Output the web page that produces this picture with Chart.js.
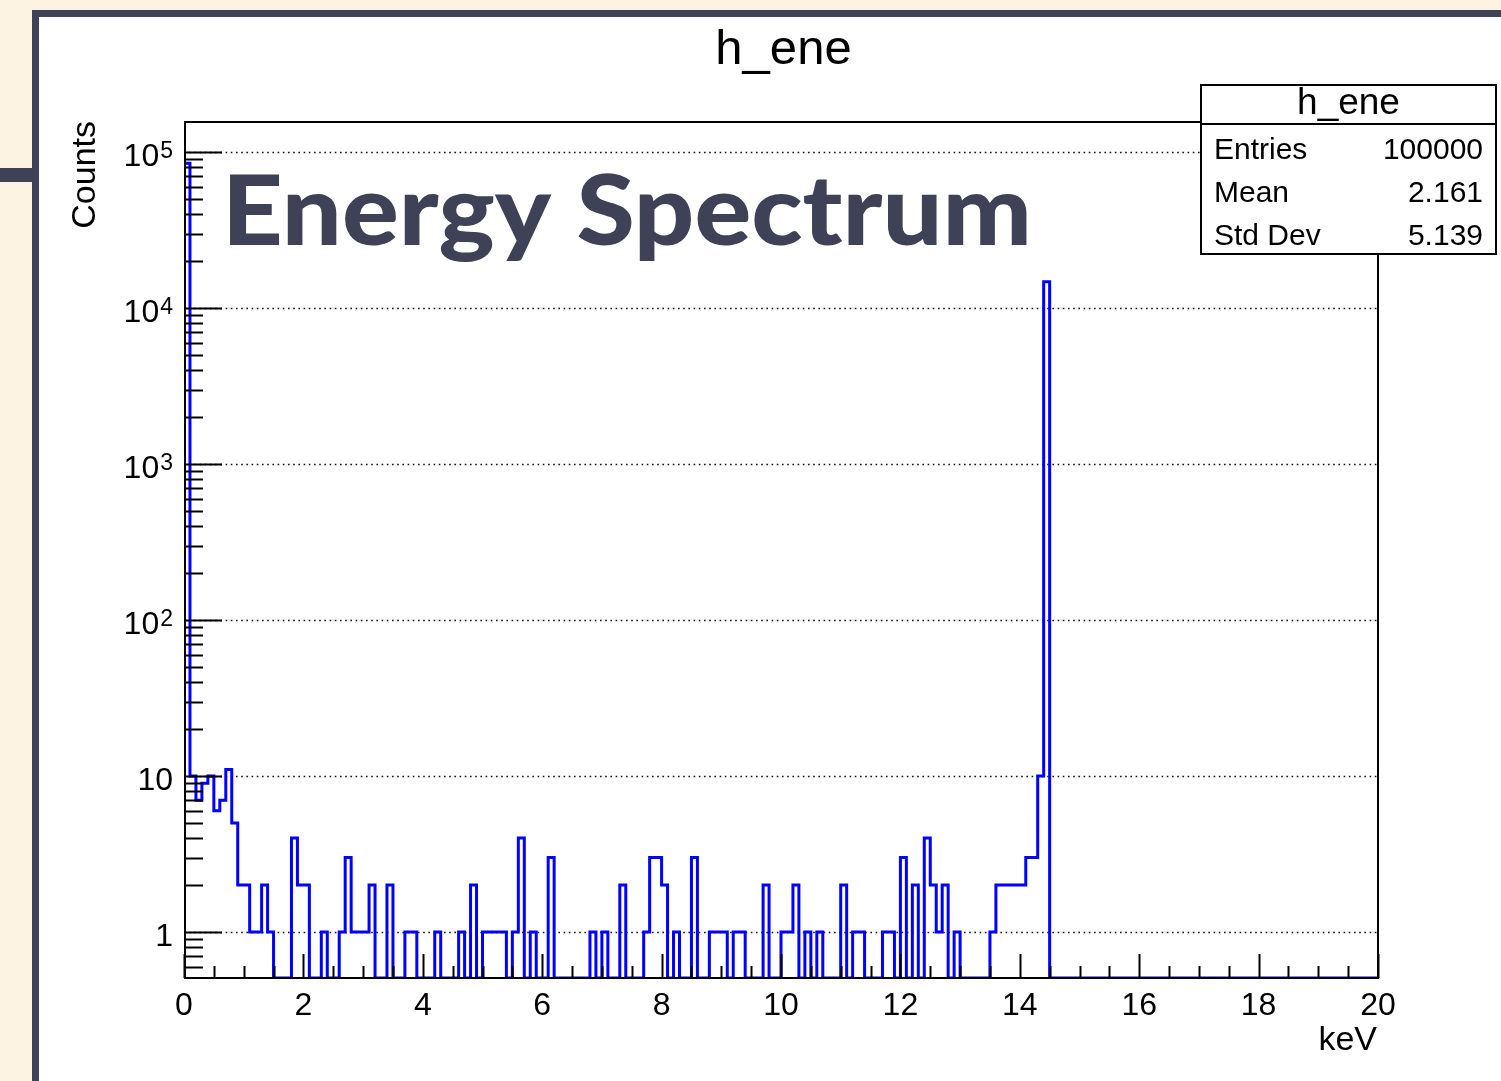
<!DOCTYPE html>
<html>
<head>
<meta charset="utf-8">
<title>h_ene</title>
<script src="https://cdn.jsdelivr.net/npm/chart.js@4.4.0/dist/chart.umd.min.js"></script>
<style>
  html, body { margin: 0; padding: 0; background: #fdf3e3; }
  body { width: 1501px; height: 1081px; overflow: hidden; position: relative; }
  #panel {
    position: absolute; left: 32px; top: 10px; width: 1480px; height: 1090px;
    border-left: 7px solid #3f4257; border-top: 7px solid #3f4257; background: #fff;
  }
  #notch { position: absolute; left: 0; top: 168px; width: 34px; height: 14px; background: #3f4257; }
  #chart { position: absolute; left: 0; top: 0; }
</style>
</head>
<body>
<div id="panel"></div>
<div id="notch"></div>
<canvas id="chart" width="1501" height="1081"></canvas>
<script>
// histogram h_ene : 200 bins of 0.1 keV from 0 to 20 keV (one row = 2 keV)
const binWidth = 0.1;
const counts = [
  85009, 10, 7, 9, 10, 6, 7, 11, 5, 2, 2, 1, 1, 2, 1, 0, 0, 0, 4, 2,
  2, 0, 0, 1, 0, 0, 1, 3, 1, 1, 1, 2, 0, 0, 2, 0, 0, 1, 1, 0,
  0, 0, 1, 0, 0, 0, 1, 0, 2, 0, 1, 1, 1, 1, 0, 1, 4, 0, 1, 0,
  0, 3, 0, 0, 0, 0, 0, 0, 1, 0, 1, 0, 0, 2, 0, 0, 0, 1, 3, 3,
  2, 0, 1, 0, 0, 3, 0, 0, 1, 1, 1, 0, 1, 1, 0, 0, 0, 2, 0, 0,
  1, 1, 2, 0, 1, 0, 1, 0, 0, 0, 2, 0, 1, 1, 0, 0, 0, 1, 1, 0,
  3, 0, 2, 0, 4, 2, 1, 2, 0, 1, 0, 0, 0, 0, 0, 1, 2, 2, 2, 2,
  2, 3, 3, 10, 14800, 0, 0, 0, 0, 0, 0, 0, 0, 0, 0, 0, 0, 0, 0, 0,
  0, 0, 0, 0, 0, 0, 0, 0, 0, 0, 0, 0, 0, 0, 0, 0, 0, 0, 0, 0,
  0, 0, 0, 0, 0, 0, 0, 0, 0, 0, 0, 0, 0, 0, 0, 0, 0, 0, 0, 0
];

const xMin = 0, xMax = 20;
const yMin = 0.507, yMax = 158600;

const xTickValues = [0, 2, 4, 6, 8, 10, 12, 14, 16, 18, 20];
const xTickLabels = ['0', '2', '4', '6', '8', '10', '12', '14', '16', '18', '20'];
const yTickValues = [1, 10, 100, 1000, 10000, 100000];
const yTickBase = ['1', '10', '10', '10', '10', '10'];
const yTickExp = ['', '', '2', '3', '4', '5'];

const histName = 'h_ene';
const statNames = ['Entries', 'Mean', 'Std Dev'];
const statValues = ['100000', '2.161', '5.139'];
const xTitle = 'keV';
const yTitle = 'Counts';
const slideTitle = 'Energy Spectrum';

const HELV = '"Liberation Sans", Arial, Helvetica, sans-serif';

// empty bins sit on the bottom of the frame, like ROOT draws them
const level = c => (c > 0 ? c : yMin);
const points = [{ x: xMin, y: yMin }];
counts.forEach((c, i) => {
  points.push({ x: i * binWidth, y: level(c) });
  points.push({ x: (i + 1) * binWidth, y: level(c) });
});
points.push({ x: xMax, y: yMin });

const rootStyle = {
  id: 'rootStyle',
  beforeDatasetsDraw(chart) {
    const { ctx, chartArea: a, scales: { y } } = chart;
    ctx.save();
    ctx.strokeStyle = '#111';
    ctx.lineWidth = 1.4;
    ctx.setLineDash([1.6, 3.6]);
    yTickValues.forEach(v => {
      const py = Math.round(y.getPixelForValue(v)) + 0.5;
      ctx.beginPath();
      ctx.moveTo(a.left, py);
      ctx.lineTo(a.right, py);
      ctx.stroke();
    });
    ctx.restore();
  },
  afterDatasetsDraw(chart) {
    const { ctx, chartArea: a, scales: { x, y } } = chart;
    ctx.save();
    ctx.strokeStyle = '#000';
    ctx.fillStyle = '#000';

    // frame
    ctx.lineWidth = 2;
    ctx.strokeRect(a.left + 1, a.top + 1, a.right - a.left - 1, a.bottom - a.top - 1);

    // y ticks (log): decades long, 2..9 short
    ctx.lineWidth = 2;
    for (let e = -1; e <= 5; e++) {
      for (let m = 1; m <= 9; m++) {
        const v = m * Math.pow(10, e);
        if (v < yMin || v > yMax) continue;
        const py = Math.round(y.getPixelForValue(v)) + 0.5;
        ctx.beginPath();
        ctx.moveTo(a.left, py);
        ctx.lineTo(a.left + (m === 1 ? 38 : 19), py);
        ctx.stroke();
      }
    }

    // x ticks: every 2 keV long, every 0.5 keV short
    for (let i = 0; i <= 40; i++) {
      const px = Math.round(x.getPixelForValue(i * 0.5)) + 0.5;
      ctx.beginPath();
      ctx.moveTo(px, a.bottom);
      ctx.lineTo(px, a.bottom - (i % 4 === 0 ? 24 : 12));
      ctx.stroke();
    }

    // tick labels
    ctx.font = '32px ' + HELV;
    ctx.textAlign = 'center';
    ctx.textBaseline = 'alphabetic';
    xTickValues.forEach((v, i) => {
      ctx.fillText(xTickLabels[i], x.getPixelForValue(v), 1015);
    });
    const labelRight = 173;
    yTickValues.forEach((v, i) => {
      const py = y.getPixelForValue(v);
      ctx.textAlign = 'right';
      if (yTickExp[i]) {
        ctx.font = '23px ' + HELV;
        const w = ctx.measureText(yTickExp[i]).width;
        ctx.fillText(yTickExp[i], labelRight, py + 6);
        ctx.font = '32px ' + HELV;
        ctx.fillText(yTickBase[i], labelRight - w - 1, py + 14);
      } else {
        ctx.font = '32px ' + HELV;
        ctx.fillText(yTickBase[i], labelRight, py + 14);
      }
    });

    // axis titles
    ctx.font = '34px ' + HELV;
    ctx.textAlign = 'right';
    ctx.fillText(xTitle, a.right - 1, 1050);
    ctx.save();
    ctx.translate(95, a.top);
    ctx.rotate(-Math.PI / 2);
    ctx.fillText(yTitle, 0, 0);
    ctx.restore();

    // histogram title
    ctx.font = '49px ' + HELV;
    ctx.textAlign = 'center';
    ctx.fillText(histName, 783.5, 64);

    // stats box
    const bx = 1200, by = 84, bw = 297, bh = 171;
    ctx.fillStyle = '#fff';
    ctx.fillRect(bx, by, bw, bh);
    ctx.lineWidth = 2;
    ctx.strokeRect(bx + 1, by + 1, bw - 2, bh - 2);
    ctx.beginPath();
    ctx.moveTo(bx, 124);
    ctx.lineTo(bx + bw, 124);
    ctx.stroke();
    ctx.fillStyle = '#000';
    ctx.font = '37px ' + HELV;
    ctx.textAlign = 'center';
    ctx.fillText(histName, bx + bw / 2, 114);
    ctx.font = '30px ' + HELV;
    statNames.forEach((n, i) => {
      const py = 159 + i * 43;
      ctx.textAlign = 'left';
      ctx.fillText(n, bx + 14, py);
      ctx.textAlign = 'right';
      ctx.fillText(statValues[i], bx + bw - 14, py);
    });

    // slide heading over the plot
    ctx.fillStyle = '#3f4257';
    ctx.font = '900 97px Lato, "Open Sans", sans-serif';
    ctx.textAlign = 'left';
    const tw = ctx.measureText(slideTitle).width;
    ctx.save();
    ctx.translate(222, 245);
    ctx.scale(810 / tw, 1);
    ctx.fillText(slideTitle, 0, 0);
    ctx.restore();

    ctx.restore();
  }
};

const chart = new Chart(document.getElementById('chart'), {
  type: 'line',
  data: {
    datasets: [{
      label: histName,
      data: points,
      borderColor: '#0000ff',
      borderWidth: 3,
      borderJoinStyle: 'miter',
      pointRadius: 0,
      fill: false,
      tension: 0
    }]
  },
  options: {
    responsive: false,
    animation: false,
    events: [],
    layout: { padding: { left: 184, top: 121, right: 123, bottom: 103 } },
    plugins: { legend: { display: false }, tooltip: { enabled: false } },
    scales: {
      x: { type: 'linear', min: xMin, max: xMax, bounds: 'data', display: false },
      y: { type: 'logarithmic', min: yMin, max: yMax, bounds: 'data', display: false }
    }
  },
  plugins: [rootStyle]
});
</script>
</body>
</html>
